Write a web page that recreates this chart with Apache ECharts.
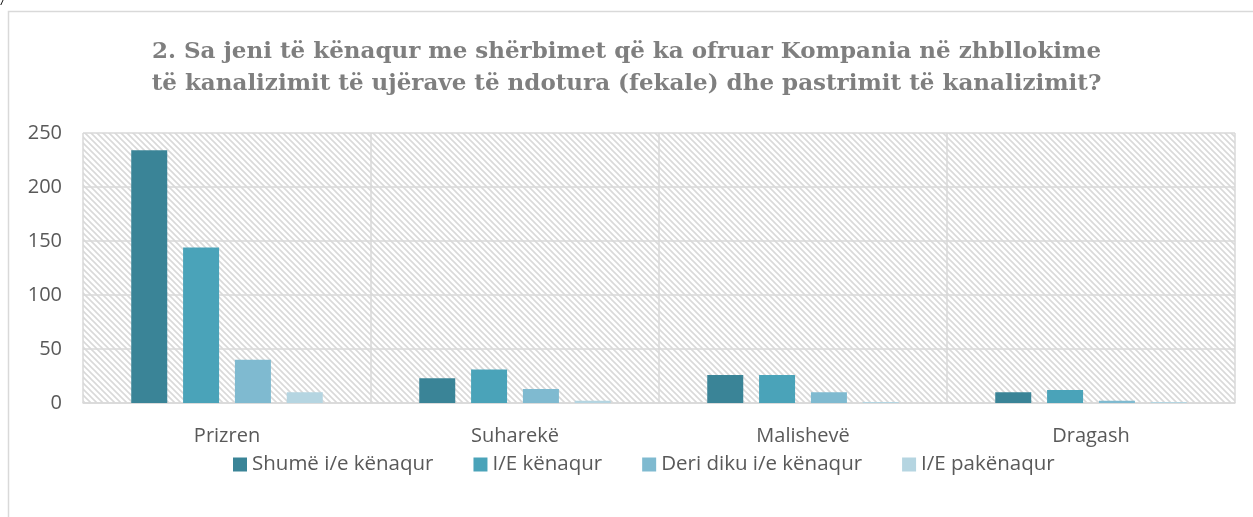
<!DOCTYPE html>
<html>
<head>
<meta charset="utf-8">
<script src="https://cdn.jsdelivr.net/npm/echarts@6/dist/echarts.min.js"></script>
<style>
  html, body { margin: 0; padding: 0; background: #fff; }
  #echartsMain { width: 1253px; height: 517px; }
</style>
</head>
<body>
<div id="echartsMain"></div>
<script>
// kategoritë (komunat)
var categories = ['Prizren', 'Suharekë', 'Malishevë', 'Dragash'];
// seritë
var seriesNames = ['Shumë i/e kënaqur', 'I/E kënaqur', 'Deri diku i/e kënaqur', 'I/E pakënaqur'];
var shumeKenaqur = [234, 23, 26, 10];
var kenaqur = [144, 31, 26, 12];
var deriDiku = [40, 13, 10, 2];
var pakenaqur = [10, 2, 1, 1];
var yTicks = [0, 50, 100, 150, 200, 250];

var colors = ['#3a8497', '#4aa3b9', '#7fbad0', '#b5d5e1'];

// motivi me vija diagonale per sfondin e grafikut
function makeHatch() {
  var c = document.createElement('canvas');
  c.width = 6; c.height = 6;
  var ctx = c.getContext('2d');
  ctx.fillStyle = '#ffffff';
  ctx.fillRect(0, 0, 6, 6);
  ctx.strokeStyle = '#d9d9d9';
  ctx.lineWidth = 1.6;
  ctx.beginPath();
  ctx.moveTo(-1, -1); ctx.lineTo(7, 7);
  ctx.moveTo(-1, 5); ctx.lineTo(1, 7);
  ctx.moveTo(5, -1); ctx.lineTo(7, 1);
  ctx.stroke();
  return c;
}

var myChart = echarts.init(document.getElementById('echartsMain'));

var allData = [shumeKenaqur, kenaqur, deriDiku, pakenaqur];
var series = seriesNames.map(function (name, i) {
  return {
    name: name,
    type: 'bar',
    data: allData[i],
    barWidth: '12.5%',
    barGap: '44%',
    itemStyle: { color: colors[i] }
  };
});

var option = {
  animation: false,
  backgroundColor: '#ffffff',
  title: {
    text: '2. Sa jeni të kënaqur me shërbimet që ka ofruar Kompania në zhbllokime\ntë kanalizimit të ujërave të ndotura (fekale) dhe pastrimit të kanalizimit?',
    left: 'center',
    top: 31,
    textStyle: {
      fontFamily: 'DejaVu Serif',
      fontWeight: 'bold',
      fontSize: 23,
      lineHeight: 32,
      color: '#7f7f7f'
    }
  },
  graphic: [
    {
      type: 'rect',
      shape: { x: 8.5, y: 11.5, width: 1300, height: 600 },
      style: { fill: 'none', stroke: '#d9d9d9', lineWidth: 1.5 },
      silent: true
    },
    {
      type: 'text',
      left: 1, top: -4,
      style: { text: '/', font: 'italic 12px Liberation Sans', fill: '#000' }
    }
  ],
  legend: {
    top: 449,
    left: 228,
    itemWidth: 14,
    itemHeight: 14,
    itemGap: 40,
    icon: 'rect',
    data: seriesNames,
    textStyle: { fontFamily: 'Open Sans', fontSize: 20.5, color: '#595959' }
  },
  grid: {
    left: 83,
    right: 18,
    top: 133,
    bottom: 114,
    show: true,
    borderWidth: 0,
    backgroundColor: { image: makeHatch(), repeat: 'repeat' }
  },
  xAxis: {
    type: 'category',
    data: categories,
    axisLine: { show: true, lineStyle: { color: '#d9d9d9', width: 1.5 } },
    axisTick: { show: false },
    axisLabel: { fontFamily: 'Open Sans', fontSize: 20, color: '#595959', margin: 23 },
    splitLine: { show: true, lineStyle: { color: '#d9d9d9', width: 1.5 } }
  },
  yAxis: {
    type: 'value',
    min: 0,
    max: 250,
    interval: 50,
    axisLine: { show: false },
    axisTick: { show: false },
    axisLabel: {
      fontFamily: 'Open Sans', fontSize: 20, color: '#595959', margin: 21,
      formatter: function (v) { return yTicks.indexOf(v) >= 0 ? String(v) : ''; }
    },
    splitLine: { show: true, lineStyle: { color: '#d9d9d9', width: 1.5 } }
  },
  series: series
};

myChart.setOption(option);
</script>
</body>
</html>
